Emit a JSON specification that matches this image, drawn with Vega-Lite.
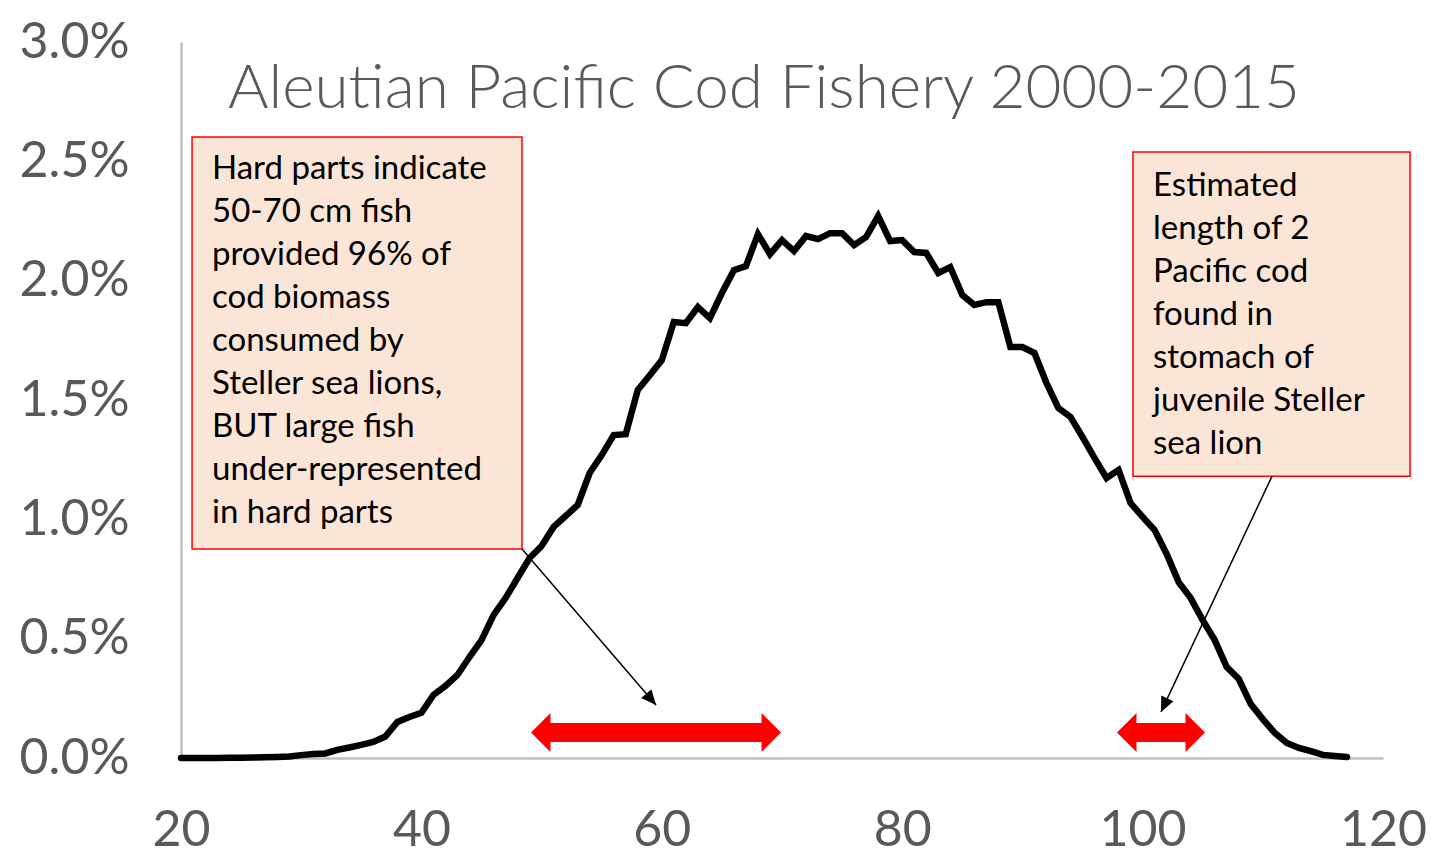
{
  "$schema": "https://vega.github.io/schema/vega-lite/v6.json",
  "width": 1202,
  "height": 716,
  "autosize": {"type": "none"},
  "padding": {"left": 181, "top": 42, "right": 50, "bottom": 107},
  "background": "white",
  "config": {"view": {"stroke": null}, "font": "Lato"},
  "title": {
    "text": "Aleutian Pacific Cod Fishery 2000-2015",
    "anchor": "start",
    "frame": "group",
    "offset": 0,
    "dx": 47,
    "dy": 153,
    "baseline": "alphabetic",
    "font": "Lato",
    "fontSize": 62,
    "fontWeight": 300,
    "color": "#595959"
  },
  "datasets": {
    "fishery": [
      {"length_cm": 20, "share": 0.0},
      {"length_cm": 21, "share": 0.0},
      {"length_cm": 22, "share": 0.0},
      {"length_cm": 23, "share": 0.0},
      {"length_cm": 24, "share": 0.00001},
      {"length_cm": 25, "share": 0.00001},
      {"length_cm": 26, "share": 0.00002},
      {"length_cm": 27, "share": 0.00003},
      {"length_cm": 28, "share": 0.00004},
      {"length_cm": 29, "share": 0.00006},
      {"length_cm": 30, "share": 0.00012},
      {"length_cm": 31, "share": 0.00017},
      {"length_cm": 32, "share": 0.00019},
      {"length_cm": 33, "share": 0.00034},
      {"length_cm": 34, "share": 0.00044},
      {"length_cm": 35, "share": 0.00055},
      {"length_cm": 36, "share": 0.00067},
      {"length_cm": 37, "share": 0.0009},
      {"length_cm": 38, "share": 0.00151},
      {"length_cm": 39, "share": 0.00172},
      {"length_cm": 40, "share": 0.00189},
      {"length_cm": 41, "share": 0.00264},
      {"length_cm": 42, "share": 0.00302},
      {"length_cm": 43, "share": 0.00348},
      {"length_cm": 44, "share": 0.00423},
      {"length_cm": 45, "share": 0.00494},
      {"length_cm": 46, "share": 0.00599},
      {"length_cm": 47, "share": 0.0067},
      {"length_cm": 48, "share": 0.00754},
      {"length_cm": 49, "share": 0.00838},
      {"length_cm": 50, "share": 0.00888},
      {"length_cm": 51, "share": 0.00968},
      {"length_cm": 52, "share": 0.01014},
      {"length_cm": 53, "share": 0.0106},
      {"length_cm": 54, "share": 0.01194},
      {"length_cm": 55, "share": 0.01269},
      {"length_cm": 56, "share": 0.01353},
      {"length_cm": 57, "share": 0.01357},
      {"length_cm": 58, "share": 0.01542},
      {"length_cm": 59, "share": 0.01604},
      {"length_cm": 60, "share": 0.01667},
      {"length_cm": 61, "share": 0.01827},
      {"length_cm": 62, "share": 0.01822},
      {"length_cm": 63, "share": 0.01889},
      {"length_cm": 64, "share": 0.01843},
      {"length_cm": 65, "share": 0.01948},
      {"length_cm": 66, "share": 0.02044},
      {"length_cm": 67, "share": 0.02061},
      {"length_cm": 68, "share": 0.02195},
      {"length_cm": 69, "share": 0.02111},
      {"length_cm": 70, "share": 0.0217},
      {"length_cm": 71, "share": 0.02124},
      {"length_cm": 72, "share": 0.02187},
      {"length_cm": 73, "share": 0.02174},
      {"length_cm": 74, "share": 0.02199},
      {"length_cm": 75, "share": 0.02199},
      {"length_cm": 76, "share": 0.02149},
      {"length_cm": 77, "share": 0.02183},
      {"length_cm": 78, "share": 0.02271},
      {"length_cm": 79, "share": 0.02166},
      {"length_cm": 80, "share": 0.0217},
      {"length_cm": 81, "share": 0.0212},
      {"length_cm": 82, "share": 0.02116},
      {"length_cm": 83, "share": 0.02032},
      {"length_cm": 84, "share": 0.02057},
      {"length_cm": 85, "share": 0.0194},
      {"length_cm": 86, "share": 0.01898},
      {"length_cm": 87, "share": 0.0191},
      {"length_cm": 88, "share": 0.0191},
      {"length_cm": 89, "share": 0.01722},
      {"length_cm": 90, "share": 0.01722},
      {"length_cm": 91, "share": 0.01697},
      {"length_cm": 92, "share": 0.01571},
      {"length_cm": 93, "share": 0.01466},
      {"length_cm": 94, "share": 0.01429},
      {"length_cm": 95, "share": 0.01345},
      {"length_cm": 96, "share": 0.01257},
      {"length_cm": 97, "share": 0.01173},
      {"length_cm": 98, "share": 0.01207},
      {"length_cm": 99, "share": 0.01068},
      {"length_cm": 100, "share": 0.0101},
      {"length_cm": 101, "share": 0.00955},
      {"length_cm": 102, "share": 0.00855},
      {"length_cm": 103, "share": 0.00737},
      {"length_cm": 104, "share": 0.0067},
      {"length_cm": 105, "share": 0.00578},
      {"length_cm": 106, "share": 0.00494},
      {"length_cm": 107, "share": 0.00381},
      {"length_cm": 108, "share": 0.00331},
      {"length_cm": 109, "share": 0.00226},
      {"length_cm": 110, "share": 0.00163},
      {"length_cm": 111, "share": 0.00105},
      {"length_cm": 112, "share": 0.00063},
      {"length_cm": 113, "share": 0.00042},
      {"length_cm": 114, "share": 0.00029},
      {"length_cm": 115, "share": 0.00013},
      {"length_cm": 116, "share": 0.00008},
      {"length_cm": 117, "share": 0.00004}
    ],
    "notes": [
      {"note": "hard", "left": 20.92, "right": 48.37, "top": 0.02602, "bottom": 0.00876, "tx": 22.58, "ty": 0.02425,
       "label": "Hard parts indicate\n50-70 cm fish\nprovided 96% of\ncod biomass\nconsumed by\nSteller sea lions,\nBUT large fish\nunder-represented\nin hard parts"},
      {"note": "stomach", "left": 99.2, "right": 122.25, "top": 0.02539, "bottom": 0.01181, "tx": 100.87, "ty": 0.02354,
       "label": "Estimated\nlength of 2\nPacific cod\nfound in\nstomach of\njuvenile Steller\nsea lion"}
    ],
    "pointers": [
      {"note": "hard", "x_from": 48.37, "y_from": 0.00876, "x_to": 59.52, "y_to": 0.00222},
      {"note": "stomach", "x_from": 110.77, "y_from": 0.01181, "x_to": 101.53, "y_to": 0.00193}
    ],
    "ranges": [
      {"note": "hard", "from": 49.12, "to": 69.92, "level": 0.00107},
      {"note": "stomach", "from": 97.87, "to": 105.19, "level": 0.00107}
    ]
  },
  "layer": [
    {
      "data": {"name": "fishery"},
      "mark": {"type": "line", "color": "black", "strokeWidth": 6.5, "strokeJoin": "miter", "strokeCap": "round"},
      "encoding": {
        "x": {
          "field": "length_cm", "type": "quantitative",
          "scale": {"domain": [20, 120], "nice": false, "zero": false},
          "axis": {
            "values": [20, 40, 60, 80, 100, 120],
            "title": null, "grid": false, "ticks": false, "tickSize": 0,
            "domainColor": "#BFBFBF", "domainWidth": 2.5,
            "labelFont": "Lato", "labelFontSize": 50, "labelColor": "#595959",
            "labelPadding": 47, "labelFlush": false, "labelOverlap": false
          }
        },
        "y": {
          "field": "share", "type": "quantitative",
          "scale": {"domain": [0, 0.03], "nice": false, "zero": true},
          "axis": {
            "values": [0, 0.005, 0.01, 0.015, 0.02, 0.025, 0.03],
            "format": ".1%",
            "title": null, "grid": false, "ticks": false, "tickSize": 0,
            "domainColor": "#BFBFBF", "domainWidth": 2.5,
            "labelFont": "Lato", "labelFontSize": 50, "labelColor": "#595959",
            "labelPadding": 52, "labelFlush": false, "labelOverlap": false
          }
        }
      }
    },
    {
      "data": {"name": "notes"},
      "mark": {"type": "rect", "fill": "#FBE5D6", "stroke": "#FF0000", "strokeWidth": 1.5},
      "encoding": {
        "x": {"field": "left", "type": "quantitative", "scale": {"domain": [20, 120], "nice": false, "zero": false}},
        "x2": {"field": "right"},
        "y": {"field": "top", "type": "quantitative", "scale": {"domain": [0, 0.03], "nice": false, "zero": true}},
        "y2": {"field": "bottom"}
      }
    },
    {
      "data": {"name": "notes"},
      "mark": {"type": "text", "align": "left", "baseline": "alphabetic", "lineBreak": "\n", "lineHeight": 43, "font": "Lato", "fontSize": 33, "color": "black"},
      "encoding": {
        "x": {"field": "tx", "type": "quantitative"},
        "y": {"field": "ty", "type": "quantitative"},
        "text": {"field": "label", "type": "nominal"}
      }
    },
    {
      "data": {"name": "pointers"},
      "mark": {"type": "rule", "color": "black", "strokeWidth": 1.5},
      "encoding": {
        "x": {"field": "x_from", "type": "quantitative"},
        "y": {"field": "y_from", "type": "quantitative"},
        "x2": {"field": "x_to"},
        "y2": {"field": "y_to"}
      }
    },
    {
      "data": {"name": "pointers"},
      "transform": [{"filter": "datum.note === 'hard'"}],
      "mark": {"type": "point", "shape": "M0,0L-1,-0.45L-1,0.45Z", "size": 900, "filled": true, "opacity": 1, "color": "black", "strokeWidth": 0, "angle": 49.5},
      "encoding": {
        "x": {"field": "x_to", "type": "quantitative"},
        "y": {"field": "y_to", "type": "quantitative"}
      }
    },
    {
      "data": {"name": "pointers"},
      "transform": [{"filter": "datum.note === 'stomach'"}],
      "mark": {"type": "point", "shape": "M0,0L-1,-0.45L-1,0.45Z", "size": 900, "filled": true, "opacity": 1, "color": "black", "strokeWidth": 0, "angle": 115.2},
      "encoding": {
        "x": {"field": "x_to", "type": "quantitative"},
        "y": {"field": "y_to", "type": "quantitative"}
      }
    },
    {
      "data": {"name": "ranges"},
      "mark": {"type": "rule", "color": "#FF0000", "strokeWidth": 19, "strokeCap": "butt", "xOffset": 12, "x2Offset": -12},
      "encoding": {
        "x": {"field": "from", "type": "quantitative"},
        "x2": {"field": "to"},
        "y": {"field": "level", "type": "quantitative"}
      }
    },
    {
      "data": {"name": "ranges"},
      "mark": {"type": "point", "shape": "M0,0L1,-1L1,1Z", "size": 1521, "filled": true, "opacity": 1, "color": "#FF0000", "strokeWidth": 0},
      "encoding": {
        "x": {"field": "from", "type": "quantitative"},
        "y": {"field": "level", "type": "quantitative"}
      }
    },
    {
      "data": {"name": "ranges"},
      "mark": {"type": "point", "shape": "M0,0L-1,-1L-1,1Z", "size": 1521, "filled": true, "opacity": 1, "color": "#FF0000", "strokeWidth": 0},
      "encoding": {
        "x": {"field": "to", "type": "quantitative"},
        "y": {"field": "level", "type": "quantitative"}
      }
    }
  ]
}
